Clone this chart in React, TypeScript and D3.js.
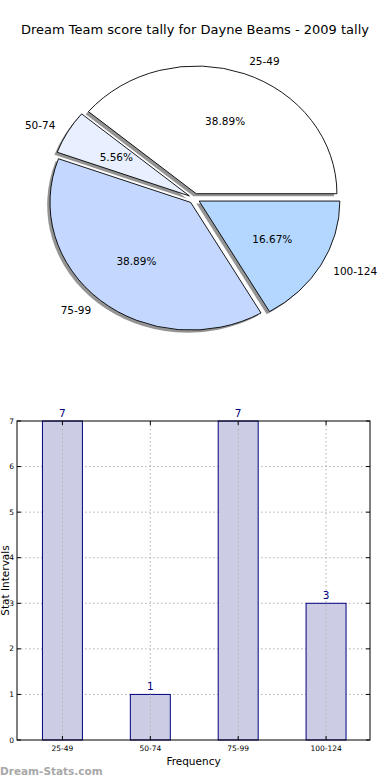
import * as d3 from "d3"

const TITLE = "Dream Team score tally for Dayne Beams - 2009 tally"
const CATEGORIES = ["25-49", "50-74", "75-99", "100-124"]
const COUNTS = [7, 1, 7, 3]
const SLICE_COLORS = ["#ffffff", "#e8f0ff", "#c4d8ff", "#b3d7ff"]
const Y_TICKS = [0, 1, 2, 3, 4, 5, 6, 7]

const W = 390
const H = 780
const FONT = "DejaVu Sans, sans-serif"

// pie geometry (matplotlib-ish: elliptical because of axes aspect)
const CX = 194.3
const CY = 198.5
const RX = 140.7
const RY = 127.7
const EXPLODE = 0.04

// bar axes box
const AX = { left: 17, right: 370, top: 421, bottom: 740 }

function PieChart() {
  const total = d3.sum(COUNTS)
  const slices = d3.pie<number>().sort(null)
    .startAngle(Math.PI / 2).endAngle(Math.PI / 2 - 2 * Math.PI)(COUNTS)
  const arc = d3.arc<d3.PieArcDatum<number>>().innerRadius(0).outerRadius(RX)
  const k = RY / RX

  return (
    <g>
      {slices.map((s, i) => {
        // mid angle in math convention (ccw from east)
        const mid = Math.PI / 2 - (s.startAngle + s.endAngle) / 2
        const ox = CX + EXPLODE * RX * Math.cos(mid)
        const oy = CY - EXPLODE * RY * Math.sin(mid)
        return (
          <g key={"sh" + i} transform={`translate(${ox - 0.02 * RX},${oy + 0.02 * RY}) scale(1,${k})`}>
            <path d={arc(s) ?? ""} fill="#4d4d4d" opacity={0.6} />
          </g>
        )
      })}
      {slices.map((s, i) => {
        const mid = Math.PI / 2 - (s.startAngle + s.endAngle) / 2
        const ox = CX + EXPLODE * RX * Math.cos(mid)
        const oy = CY - EXPLODE * RY * Math.sin(mid)
        const lx = ox + 1.1 * RX * Math.cos(mid)
        const ly = oy - 1.1 * RY * Math.sin(mid)
        const px = ox + 0.6 * RX * Math.cos(mid)
        const py = oy - 0.6 * RY * Math.sin(mid)
        return (
          <g key={"w" + i}>
            <g transform={`translate(${ox},${oy}) scale(1,${k})`}>
              <path d={arc(s) ?? ""} fill={SLICE_COLORS[i]} stroke="#000" strokeWidth={0.9}
                vectorEffect="non-scaling-stroke" />
            </g>
            <text x={lx} y={ly} dy="0.35em" fontSize={10.5} fontFamily={FONT}
              textAnchor={Math.cos(mid) > 0 ? "start" : "end"}>{CATEGORIES[i]}</text>
            <text x={px} y={py} dy="0.35em" fontSize={10.5} fontFamily={FONT}
              textAnchor="middle">{(COUNTS[i] / total * 100).toFixed(2)}%</text>
          </g>
        )
      })}
    </g>
  )
}

function BarChart() {
  const x = d3.scalePoint<string>().domain(CATEGORIES).range([AX.left + 1.5, AX.right]).padding(0.5)
  const y = d3.scaleLinear().domain([0, 7]).range([AX.bottom, AX.top])
  const bw = x.step() * 0.455
  const grid = "#b0b0b0"

  return (
    <g fontFamily={FONT}>
      {Y_TICKS.filter((t) => t > 0 && t < 7).map((t) => (
        <line key={"hg" + t} x1={AX.left} x2={AX.right} y1={y(t)} y2={y(t)}
          stroke={grid} strokeDasharray="1.5,2.5" />
      ))}
      {CATEGORIES.map((c, i) => (
        <rect key={"b" + c} x={x(c)! - bw / 2} y={y(COUNTS[i])} width={bw}
          height={y(0) - y(COUNTS[i])} fill="#ccccE5" stroke="#000080" strokeWidth={1} />
      ))}
      {CATEGORIES.map((c) => (
        <line key={"vg" + c} x1={x(c)} x2={x(c)} y1={AX.top} y2={AX.bottom}
          stroke={grid} strokeDasharray="1.5,2.5" />
      ))}
      <rect x={AX.left} y={AX.top} width={AX.right - AX.left} height={AX.bottom - AX.top}
        fill="none" stroke="#000" strokeWidth={1} />
      {Y_TICKS.map((t) => (
        <g key={"yt" + t}>
          <line x1={AX.left} x2={AX.left + 4} y1={y(t)} y2={y(t)} stroke="#000" />
          <line x1={AX.right} x2={AX.right - 4} y1={y(t)} y2={y(t)} stroke="#000" />
          <text x={AX.left - 3} y={y(t)} dy="0.35em" fontSize={7.5} textAnchor="end">{t}</text>
        </g>
      ))}
      {CATEGORIES.map((c, i) => (
        <g key={"xt" + c}>
          <line x1={x(c)} x2={x(c)} y1={AX.bottom} y2={AX.bottom - 4} stroke="#000" />
          <line x1={x(c)} x2={x(c)} y1={AX.top} y2={AX.top + 4} stroke="#000" />
          <text x={x(c)} y={AX.bottom + 11} fontSize={7.5} textAnchor="middle">{c}</text>
          <text x={x(c)} y={y(COUNTS[i]) - 4} fontSize={10.5} textAnchor="middle"
            fill="#000080">{COUNTS[i]}</text>
        </g>
      ))}
      <text x={(AX.left + AX.right) / 2} y={765} fontSize={10.5} textAnchor="middle">Frequency</text>
      <text transform={`translate(9,${(AX.top + AX.bottom) / 2}) rotate(-90)`} fontSize={10.5}
        textAnchor="middle">Stat Intervals</text>
    </g>
  )
}

export default function App() {
  return (
    <div style={{ position: "absolute", left: 0, top: 0 }}>
      <svg width={W} height={H} style={{ display: "block", background: "#fff" }}>
        <text x={195} y={34} fontSize={13} fontFamily={FONT} textAnchor="middle">{TITLE}</text>
        <PieChart />
        <BarChart />
        <text x={0} y={775} fontSize={10.5} fontWeight="bold" fontFamily={FONT} fill="#a8a8a8">
          Dream-Stats.com
        </text>
      </svg>
    </div>
  )
}
